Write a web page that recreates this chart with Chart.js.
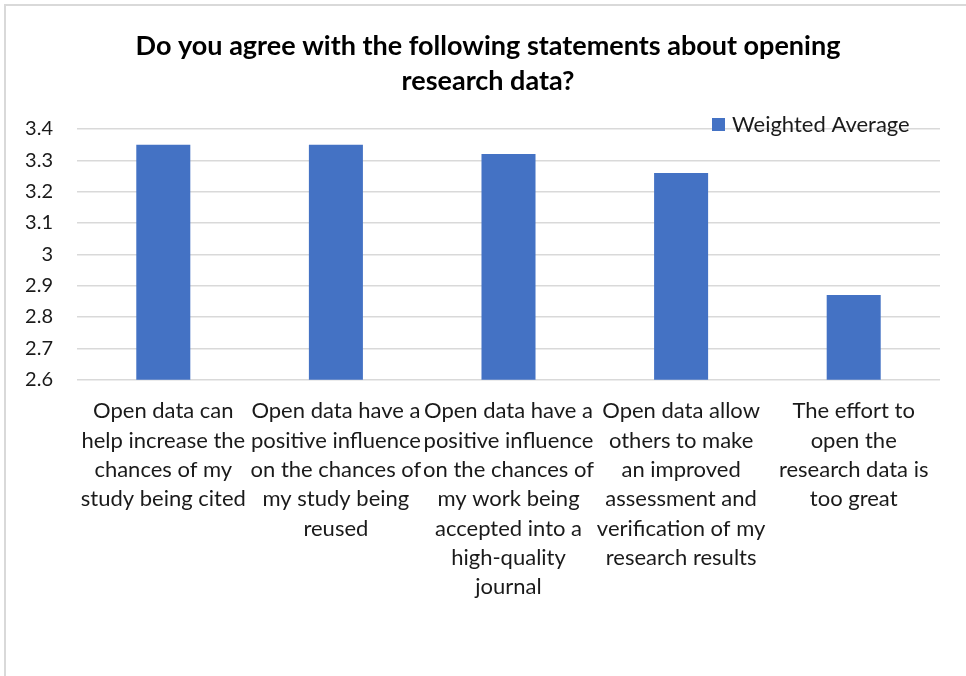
<!DOCTYPE html>
<html>
<head>
<meta charset="utf-8">
<script src="https://cdn.jsdelivr.net/npm/chart.js@4/dist/chart.umd.min.js"></script>
<style>
  html, body { margin: 0; padding: 0; background: #fff; }
  #wrap { position: relative; width: 966px; height: 676px; overflow: hidden; }
  #frame { position: absolute; left: 4px; top: 4px; width: 980px; height: 700px;
           border-left: 2px solid #d9d9d9; border-top: 2px solid #d9d9d9; box-sizing: border-box; }
  canvas { position: absolute; left: 0; top: 0; }
</style>
</head>
<body>
<div id="wrap">
  <div id="frame"></div>
  <canvas id="c" width="966" height="676"></canvas>
</div>
<script>
const titleLines = ["Do you agree with the following statements about opening", "research data?"];
const seriesName = "Weighted Average";
const categories = [
  ["Open data can", "help increase the", "chances of my", "study being cited"],
  ["Open data have a", "positive influence", "on the chances of", "my study being", "reused"],
  ["Open data have a", "positive influence", "on the chances of", "my work being", "accepted into a", "high-quality", "journal"],
  ["Open data allow", "others to make", "an improved", "assessment and", "verification of my", "research results"],
  ["The effort to", "open the", "research data is", "too great"]
];
const values = [3.35, 3.35, 3.32, 3.26, 2.87];
const yMin = 2.6, yMax = 3.4, yStep = 0.1;

const FONT = "Lato, 'Open Sans', sans-serif";
const barColor = "#4472C4";

const overlayPlugin = {
  id: 'overlay',
  afterDraw(chart) {
    const ctx = chart.ctx;
    const ds = chart.data.datasets[0];
    ctx.save();
    // title
    ctx.fillStyle = "#000";
    ctx.font = "bold 27px " + FONT;
    ctx.textAlign = "center";
    ctx.textBaseline = "middle";
    titleLines.forEach((t, i) => ctx.fillText(t, 488, 46 + i * 35));
    // legend
    ctx.fillStyle = ds.backgroundColor;
    ctx.fillRect(712, 118, 13, 13);
    ctx.fillStyle = "#1a1a1a";
    ctx.font = "22px " + FONT;
    ctx.textAlign = "left";
    ctx.fillText(ds.label, 732, 125);
    ctx.restore();
  }
};

new Chart(document.getElementById('c'), {
  type: 'bar',
  data: {
    labels: categories,
    datasets: [{
      label: seriesName,
      data: values,
      backgroundColor: barColor,
      borderWidth: 0,
      categoryPercentage: 1,
      barPercentage: 0.313
    }]
  },
  options: {
    responsive: false,
    animation: false,
    layout: { padding: { left: 0, right: 26, top: 129, bottom: 65 } },
    plugins: {
      legend: { display: false },
      tooltip: { enabled: false },
      title: { display: false }
    },
    scales: {
      x: {
        grid: { display: false },
        border: { display: false },
        ticks: {
          color: "#1a1a1a",
          font: { family: FONT, size: 22, lineHeight: 1.333 },
          padding: 9,
          maxRotation: 0,
          autoSkip: false
        }
      },
      y: {
        min: yMin,
        max: yMax,
        afterFit(scale) { scale.width = 77; },
        grid: { color: "#d9d9d9", lineWidth: 1.5, drawTicks: false },
        border: { display: false },
        ticks: {
          stepSize: yStep,
          color: "#1a1a1a",
          font: { family: FONT, size: 20 },
          padding: 24,
          callback: v => String(Math.round(v * 10) / 10)
        }
      }
    }
  },
  plugins: [overlayPlugin]
});
</script>
</body>
</html>
